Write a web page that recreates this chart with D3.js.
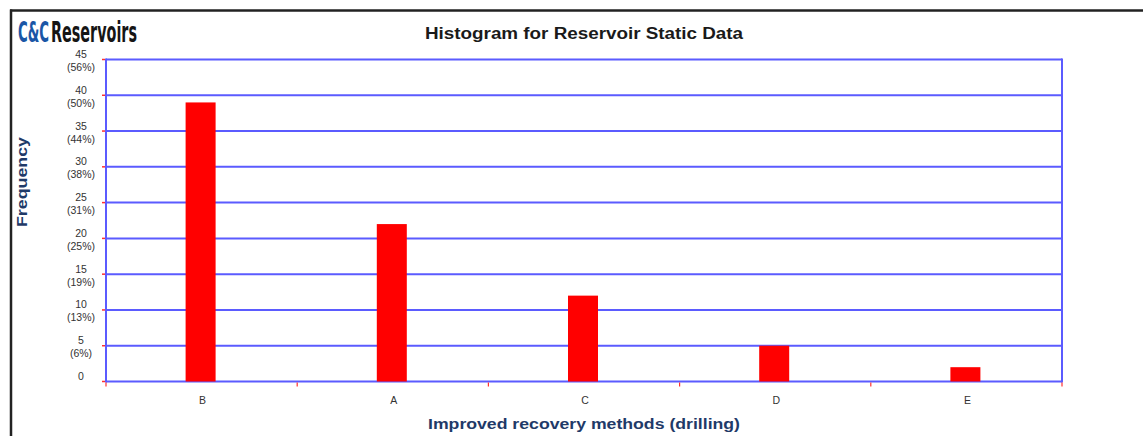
<!DOCTYPE html>
<html>
<head>
<meta charset="utf-8">
<script src="https://cdn.jsdelivr.net/npm/d3@7"></script>
<style>
  html, body { margin: 0; padding: 0; background: #fff; }
  svg { display: block; }
</style>
</head>
<body>
<svg id="chart" width="1143" height="436"></svg>
<script>
// ---- data ----
const categories = ["B", "A", "C", "D", "E"];
const counts = [39, 22, 12, 5, 2];
const yTicks = [0, 5, 10, 15, 20, 25, 30, 35, 40, 45];
const yTickPercents = ["", "(6%)", "(13%)", "(19%)", "(25%)", "(31%)", "(38%)", "(44%)", "(50%)", "(56%)"];
const chartTitle = "Histogram for Reservoir Static Data";
const xTitle = "Improved recovery methods (drilling)";
const yTitle = "Frequency";

const svg = d3.select("#chart");
const W = 1143, H = 436;

// frame
svg.append("line").attr("x1", 10).attr("x2", W).attr("y1", 10.5).attr("y2", 10.5)
  .attr("stroke", "#222").attr("stroke-width", 2.5);
svg.append("line").attr("x1", 11).attr("x2", 11).attr("y1", 9.5).attr("y2", H)
  .attr("stroke", "#222").attr("stroke-width", 2.5);

// logo (scaled to a tall condensed look)
const logoFont = "'Liberation Sans Narrow', 'DejaVu Sans Condensed', sans-serif";
function logoPart(txt, color, x0, targetW) {
  const g = svg.append("g");
  const t = g.append("text").attr("x", 0).attr("y", 0)
    .attr("font-family", logoFont).attr("font-weight", "bold").attr("font-size", 20)
    .attr("fill", color).text(txt);
  const w = t.node().getComputedTextLength() || targetW;
  g.attr("transform", `translate(${x0},41.5) scale(${targetW / w},1.45)`);
}
logoPart("C&C", "#1a56a6", 18, 31);
logoPart("Reservoirs", "#151515", 51, 86);

// title
svg.append("text").attr("x", 584).attr("y", 39)
  .attr("text-anchor", "middle")
  .attr("font-family", "Arial, 'Liberation Sans', sans-serif")
  .attr("font-weight", "bold").attr("font-size", 16).attr("fill", "#1a1a1a")
  .attr("textLength", 318).attr("lengthAdjust", "spacingAndGlyphs")
  .text(chartTitle);

const x = d3.scaleBand().domain(categories).range([106, 1062]).paddingInner(0).paddingOuter(0);
const y = d3.scaleLinear().domain([0, 45]).range([381.5, 59.5]);

// gridlines
svg.append("g").selectAll("line").data(yTicks).join("line")
  .attr("x1", 106).attr("x2", 1062)
  .attr("y1", d => y(d)).attr("y2", d => y(d))
  .attr("stroke", "#5b5bff").attr("stroke-width", 2);

// vertical borders
svg.append("line").attr("x1", 106).attr("x2", 106).attr("y1", y(45) - 1).attr("y2", y(0) + 1)
  .attr("stroke", "#5b5bff").attr("stroke-width", 2);
svg.append("line").attr("x1", 1062).attr("x2", 1062).attr("y1", y(45) - 1).attr("y2", y(0) + 1)
  .attr("stroke", "#5b5bff").attr("stroke-width", 2);

// y ticks (red)
svg.append("g").selectAll("line").data(yTicks).join("line")
  .attr("x1", 102).attr("x2", 105)
  .attr("y1", d => y(d)).attr("y2", d => y(d))
  .attr("stroke", "#ff3030").attr("stroke-width", 1.5);

// x ticks (red) at band boundaries
const bounds = categories.map(c => x(c)).concat([x.range()[1]]);
svg.append("g").selectAll("line").data(bounds).join("line")
  .attr("x1", d => d).attr("x2", d => d)
  .attr("y1", y(0) + 1).attr("y2", y(0) + 5)
  .attr("stroke", "#ff3030").attr("stroke-width", 1.2);

// bars
const barW = 30;
svg.append("g").selectAll("rect").data(categories).join("rect")
  .attr("x", c => x(c) + x.bandwidth() / 2 - barW / 2 - 1)
  .attr("width", barW)
  .attr("y", (c, i) => y(counts[i]))
  .attr("height", (c, i) => y(0) - y(counts[i]))
  .attr("fill", "#ff0000");

// y tick labels
const yl = svg.append("g")
  .attr("font-family", "Arial, 'Liberation Sans', sans-serif")
  .attr("font-size", 10.5).attr("fill", "#333").attr("text-anchor", "middle");
yTicks.forEach((t, i) => {
  yl.append("text").attr("x", 81).attr("y", y(t) - 1.5).text(t);
  if (yTickPercents[i]) yl.append("text").attr("x", 81).attr("y", y(t) + 11.5).text(yTickPercents[i]);
});

// x tick labels
svg.append("g").selectAll("text").data(categories).join("text")
  .attr("x", c => x(c) + x.bandwidth() / 2 + 1)
  .attr("y", 404)
  .attr("text-anchor", "middle")
  .attr("font-family", "Arial, 'Liberation Sans', sans-serif")
  .attr("font-size", 10.5).attr("fill", "#333")
  .text(c => c);

// axis titles
svg.append("text").attr("x", 584).attr("y", 429)
  .attr("text-anchor", "middle")
  .attr("font-family", "Arial, 'Liberation Sans', sans-serif")
  .attr("font-weight", "bold").attr("font-size", 14.5).attr("fill", "#1f3a68")
  .attr("textLength", 312).attr("lengthAdjust", "spacingAndGlyphs")
  .text(xTitle);

svg.append("text")
  .attr("transform", "translate(27,182) rotate(-90)")
  .attr("text-anchor", "middle")
  .attr("font-family", "Arial, 'Liberation Sans', sans-serif")
  .attr("font-weight", "bold").attr("font-size", 14).attr("fill", "#1f3a68")
  .attr("textLength", 90).attr("lengthAdjust", "spacingAndGlyphs")
  .text(yTitle);
</script>
</body>
</html>
